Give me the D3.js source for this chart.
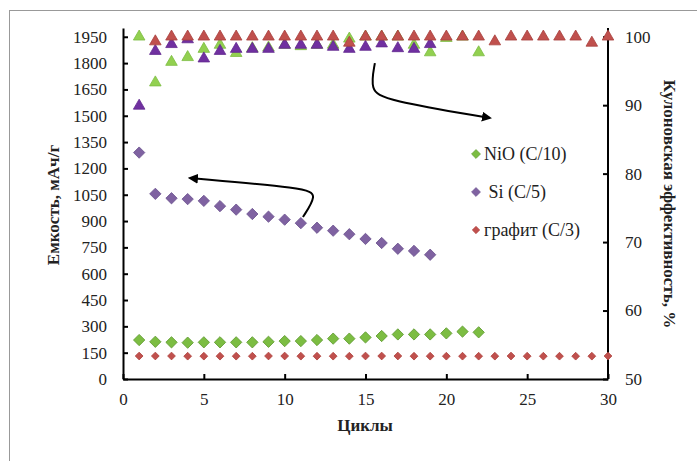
<!DOCTYPE html>
<html><head><meta charset="utf-8">
<script src="https://cdn.jsdelivr.net/npm/d3@7"></script>
<style>body{margin:0;background:#fff}svg{display:block}text{font-family:"Liberation Serif","Times New Roman",serif;fill:#222}</style>
</head><body><svg id="c" width="697" height="461"></svg>
<script>
// ---- data ----
const cyclesNiO = d3.range(1, 23);
const cyclesSi = d3.range(1, 20);
const cyclesGr = d3.range(1, 31);
const cyclesGrCE = d3.range(2, 31);
const capNiO = [222,212,209,207,209,209,209,209,212,216,216,222,230,230,237,245,254,254,254,260,270,266];
const capSi = [1290,1055,1030,1025,1015,985,965,940,925,908,888,862,845,825,798,775,742,730,708];
const capGr = [131,131,131,130,130,130,130,130,131,131,130,130,130,130,131,131,131,130,130,130,130,130,130,131,130,130,130,130,130,131];
const ceNiO = [100,93.3,96.3,97.0,98.2,98.8,97.6,98.3,98.4,98.8,98.6,98.8,98.8,99.7,100,100,100,98.8,97.7,99.8,100,97.7];
const ceSi = [89.9,97.9,98.9,99.6,96.8,97.9,98.2,98.2,98.2,98.8,98.8,98.8,98.5,98.2,98.5,99.0,98.3,98.2,98.9];
const ceGr = [99.3,100,100,100,100,100,100,100,100,100,100,100,99.1,100,100,100,100,100,100,100,100,99.3,100,100,100,100,100,99.1,100];
const xTicks = [0,5,10,15,20,25,30];
const leftTicks = d3.range(0, 2000, 150);
const rightTicks = [50,60,70,80,90,100];
const legendLabels = ["NiO (C/10)", " Si (C/5)", "графит (C/3)"];
const arrow1 = [[11.13,923],[12.0,1048],[11.38,1088],[4.14,1145]];
const arrow2 = [[15.58,1800],[15.28,1646],[16.2,1589],[22.7,1487]];

const svg = d3.select("#c");
svg.append("rect").attr("x",9.5).attr("y",10.5).attr("width",700).attr("height",470)
  .attr("fill","none").attr("stroke","#999").attr("stroke-width",1);

const x = d3.scaleLinear([0,30],[123,608]);
const yL = d3.scaleLinear([0,2000],[379,28]);
const yR = d3.scaleLinear([50,100],[379,36.7]);

const cGreen = "#7cbd42", cGreenT = "#92d050", cPurpleD = "#7f62a1", cPurpleT = "#7030a0", cRed = "#c0504d";
const fmt = d3.format("d");

function styleAxis(g){
  g.attr("font-family", null);
  g.selectAll("path.domain").attr("stroke","#000").attr("stroke-width",2);
  g.selectAll(".tick line").attr("stroke","#000").attr("stroke-width",2);
  g.selectAll("text").attr("font-size",17).attr("fill","#222");
}
const gl = svg.append("g").attr("transform","translate(123,0)")
  .call(d3.axisLeft(yL).tickValues(leftTicks).tickFormat(fmt).tickSizeInner(-5).tickSizeOuter(0).tickPadding(16));
styleAxis(gl);
const gb = svg.append("g").attr("transform","translate(0,379)")
  .call(d3.axisBottom(x).tickValues(xTicks).tickFormat(fmt).tickSizeInner(-5).tickSizeOuter(0).tickPadding(14));
styleAxis(gb);
const gr = svg.append("g").attr("transform","translate(608,0)")
  .call(d3.axisRight(yR).tickValues(rightTicks).tickFormat(fmt).tickSizeInner(-5).tickSizeOuter(0).tickPadding(17));
gr.select("path.domain").remove();
gr.append("line").attr("y1",28).attr("y2",379).attr("stroke","#000").attr("stroke-width",2);
styleAxis(gr);

// titles
svg.append("text").attr("transform","translate(59,205) rotate(-90)").attr("text-anchor","middle")
  .attr("font-size",17).attr("font-weight","bold").text("Емкость, мАч/г");
svg.append("text").attr("transform","translate(664,204) rotate(90)").attr("text-anchor","middle")
  .attr("font-size",17).attr("font-weight","bold").text("Кулоновская эффективность, %");
svg.append("text").attr("x",365).attr("y",431).attr("text-anchor","middle")
  .attr("font-size",17).attr("font-weight","bold").text("Циклы");

// arrows
svg.append("defs").append("marker").attr("id","ah").attr("viewBox","0 0 10 10").attr("refX",8).attr("refY",5)
  .attr("markerWidth",5).attr("markerHeight",5).attr("orient","auto")
  .append("path").attr("d","M0,0L10,5L0,10z").attr("fill","#000");
const aline = d3.line().x(d=>x(d[0])).y(d=>yL(d[1])).curve(d3.curveBasis);
[arrow1, arrow2].forEach(a => svg.append("path").attr("d", aline(a)).attr("fill","none")
  .attr("stroke","#000").attr("stroke-width",2).attr("marker-end","url(#ah)"));

const tri = d3.symbol(d3.symbolTriangle, 58)();
const dia = d3.symbol(d3.symbolSquare, 64)();
const diaS = d3.symbol(d3.symbolSquare, 30)();

function pts(xs, ys, yScale, path, fill, stroke, rot){
  svg.append("g").selectAll("path").data(xs.map((c,i)=>[c,ys[i]])).join("path")
    .attr("d", path)
    .attr("transform", d=>`translate(${x(d[0])},${yScale(d[1])})${rot?" rotate(45)":""}`)
    .attr("fill", fill).attr("stroke", stroke).attr("stroke-width",0.8);
}
// capacity
pts(cyclesNiO, capNiO, yL, dia, cGreen, "#5f9a2f", true);
pts(cyclesSi, capSi, yL, dia, cPurpleD, "#6d5490", true);
pts(cyclesGr, capGr, yL, diaS, cRed, "#b04440", true);
// CE
pts(cyclesNiO, ceNiO, yR, tri, cGreenT, "#7cbd42", false);
pts(cyclesSi, ceSi, yR, tri, cPurpleT, "#62288f", false);
pts(cyclesGrCE, ceGr, yR, tri, cRed, "#a8403d", false);

// legend
const leg = [ {c:cGreen, s:"#5f9a2f", p:dia}, {c:cPurpleD, s:"#6d5490", p:dia}, {c:cRed, s:"#b04440", p:diaS} ];
const lg = svg.append("g");
legendLabels.forEach((t,i)=>{
  const yy = 154 + i*38;
  lg.append("path").attr("d", d3.symbol(d3.symbolSquare, i==2?28:40)()).attr("transform",`translate(476,${yy}) rotate(45)`)
    .attr("fill", leg[i].c).attr("stroke", leg[i].s).attr("stroke-width",0.6);
  lg.append("text").attr("x",484).attr("y",yy+6).attr("font-size",18).style("white-space","pre").text(t);
});
</script></body></html>
